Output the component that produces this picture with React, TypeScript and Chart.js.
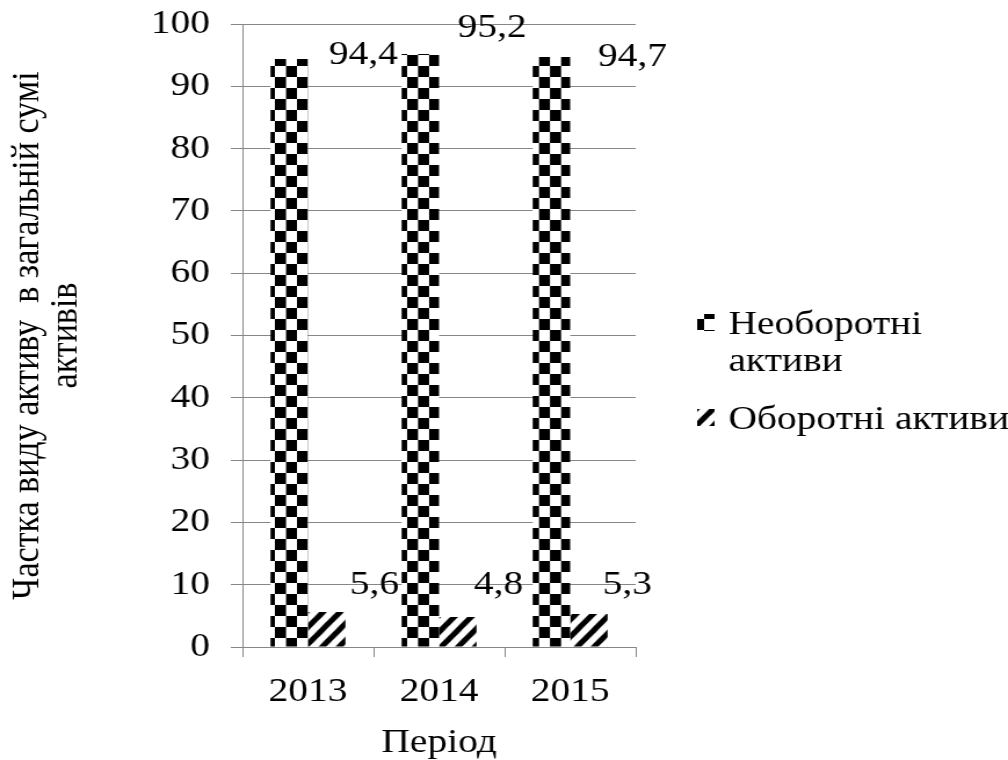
import React, { useEffect, useRef } from 'react';
import { Chart, registerables } from 'chart.js';

Chart.register(...registerables);

const categories = ['2013', '2014', '2015'];
const nonCurrentAssets = [94.4, 95.2, 94.7];
const currentAssets = [5.6, 4.8, 5.3];
const seriesNames = ['Необоротні активи', 'Оборотні активи'];
const legendLines = [['Необоротні', 'активи'], ['Оборотні активи']];
const yTitleLines = ['Частка виду активу  в загальній сумі', 'активів'];
const xTitle = 'Період';
const yMin = 0;
const yMax = 100;
const yStep = 10;

const FONT = "'Liberation Serif', 'Times New Roman', serif";
const FS = 34;
const GRID = '#868686';
// the source picture is horizontally stretched; reproduce that stretch
const SX = 1.16;
const OUT_W = 1008;
const OUT_H = 760;
const W = Math.round(OUT_W / SX);

const fmt = (v: number) => v.toFixed(1).replace('.', ',');

// manual label offsets (labels were moved beside the bars in the source)
const labelOffsets = [
  [[64, -4], [62, -26], [70, 0]],
  [[41, -27], [35, -32], [33, -29]],
];

function makeChecker() {
  const c = document.createElement('canvas');
  c.width = 22; c.height = 22;
  const x = c.getContext('2d')!;
  x.fillStyle = '#fff'; x.fillRect(0, 0, 22, 22);
  x.fillStyle = '#000';
  x.fillRect(0, 0, 11, 11);
  x.fillRect(11, 11, 11, 11);
  return c;
}

function makeHatch() {
  const p = 17;
  const c = document.createElement('canvas');
  c.width = p; c.height = p;
  const x = c.getContext('2d')!;
  x.fillStyle = '#fff'; x.fillRect(0, 0, p, p);
  x.strokeStyle = '#000';
  x.lineWidth = 5.5;
  x.lineCap = 'square';
  const seg = (a: number, b: number, cc: number, d: number) => { x.beginPath(); x.moveTo(a, b); x.lineTo(cc, d); x.stroke(); };
  seg(-1, p + 1, p + 1, -1);
  seg(-p / 2 - 1, p / 2 + 1, p / 2 + 1, -p / 2 - 1);
  seg(p / 2 - 1, p * 1.5 + 1, p * 1.5 + 1, p / 2 - 1);
  return c;
}

export default function App() {
  const ref = useRef<HTMLCanvasElement | null>(null);
  useEffect(() => {
    document.body.style.margin = '0';
    const canvas = ref.current!;
    const ctx = canvas.getContext('2d')!;
    const checker = ctx.createPattern(makeChecker(), 'repeat')!;
    const hatch = ctx.createPattern(makeHatch(), 'repeat')!;
    try {
      const m = new DOMMatrix().scaleSelf(1 / SX, 1);
      checker.setTransform(m);
      hatch.setTransform(m);
    } catch (e) { /* ignore */ }
    const patterns = [checker, hatch];

    const labelPlugin = {
      id: 'valueLabels',
      afterDatasetsDraw(chart: any) {
        const c = chart.ctx;
        c.save();
        c.font = `${FS}px ${FONT}`;
        c.fillStyle = '#000';
        c.textAlign = 'center';
        c.textBaseline = 'middle';
        chart.data.datasets.forEach((ds: any, di: number) => {
          const meta = chart.getDatasetMeta(di);
          meta.data.forEach((el: any, i: number) => {
            const off = labelOffsets[di][i];
            c.fillText(fmt(ds.data[i]), el.x + off[0], el.y + off[1]);
          });
        });
        c.restore();
      },
    };

    const legendPlugin = {
      id: 'customLegend',
      afterDraw(chart: any) {
        const c = chart.ctx;
        const x0 = chart.chartArea.right + 53;
        const tx = x0 + 27;
        const ys = [325, 420];
        const lh = 37;
        c.save();
        c.font = `${FS}px ${FONT}`;
        c.fillStyle = '#000';
        c.textAlign = 'left';
        c.textBaseline = 'middle';
        legendLines.forEach((lines, i) => {
          c.save();
          c.fillStyle = patterns[i];
          c.fillRect(x0, ys[i] - 11, 15, 17);
          c.restore();
          lines.forEach((ln, j) => c.fillText(ln, tx, ys[i] + j * lh));
        });
        c.restore();
      },
    };

    const chart = new Chart(canvas, {
      type: 'bar',
      data: {
        labels: categories,
        datasets: [
          { label: seriesNames[0], data: nonCurrentAssets, backgroundColor: checker, borderWidth: 0 },
          { label: seriesNames[1], data: currentAssets, backgroundColor: hatch, borderWidth: 0 },
        ],
      },
      options: {
        animation: false,
        responsive: false,
        maintainAspectRatio: false,
        devicePixelRatio: 1,
        layout: { padding: { left: 0, top: 24, right: W - Math.round(636 / SX), bottom: 0 } },
        plugins: {
          legend: { display: false },
          tooltip: { enabled: false },
          title: { display: false },
        },
        datasets: { bar: { categoryPercentage: 2 / 3.5, barPercentage: 1 } } as any,
        scales: {
          x: {
            grid: { display: true, drawOnChartArea: false, drawTicks: true, tickLength: 10, color: GRID, offset: true },
            border: { display: true, color: GRID },
            ticks: { color: '#000', font: { family: FONT, size: FS, lineHeight: 1.0 }, padding: 18 },
            title: { display: true, text: xTitle, color: '#000', font: { family: FONT, size: FS, lineHeight: 1.0 }, padding: 0 },
            afterFit: (s: any) => { s.height = 113; s.paddingLeft = 0; s.paddingRight = 0; },
          },
          y: {
            min: yMin,
            max: yMax,
            grid: { color: GRID, tickLength: 10, drawTicks: true },
            border: { display: true, color: GRID },
            ticks: { stepSize: yStep, color: '#000', font: { family: FONT, size: FS, lineHeight: 1.0 }, padding: 18 },
            title: { display: true, text: yTitleLines, color: '#000', font: { family: FONT, size: FS, lineHeight: 0.97 }, padding: { top: 8, bottom: 0 } },
            afterFit: (s: any) => { s.width = Math.round(243 / SX); s.paddingTop = 0; s.paddingBottom = 0; },
          },
        },
      },
      plugins: [labelPlugin, legendPlugin],
    });
    return () => chart.destroy();
  }, []);
  return (
    <div style={{ width: OUT_W, height: OUT_H, overflow: 'hidden' }}>
      <canvas
        ref={ref}
        width={W}
        height={OUT_H}
        style={{ display: 'block', width: W, height: OUT_H, transform: `scaleX(${SX})`, transformOrigin: '0 0' }}
      />
    </div>
  );
}
